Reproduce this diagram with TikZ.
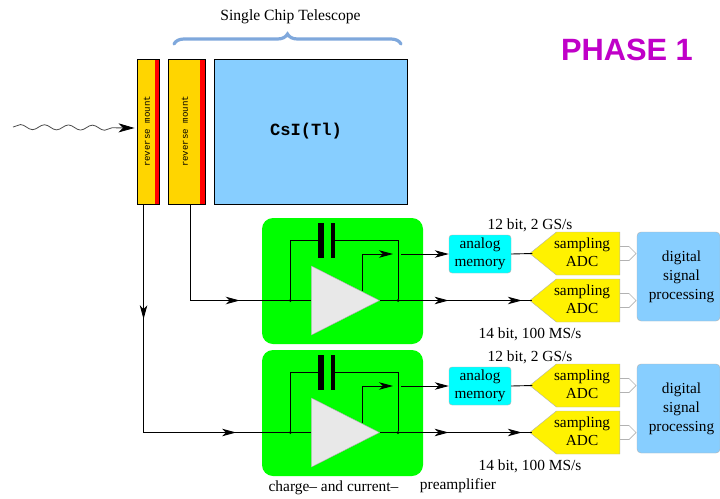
\documentclass[tikz,border=0pt]{standalone}
\usepackage{fontspec}
\setmainfont{Liberation Serif}
\newfontfamily\phasefont{Liberation Sans}
\newfontfamily\stripfont{Liberation Mono}
\usetikzlibrary{arrows.meta, positioning, calc}
\usetikzlibrary{decorations.markings, decorations.pathmorphing, decorations.pathreplacing}
\usetikzlibrary{shapes.geometric, shapes.symbols}
\definecolor{stripyellow}{HTML}{FFD500}
\definecolor{crystalblue}{HTML}{87CEFF}
\definecolor{bracecolor}{HTML}{7FA8DC}
\definecolor{phasecolor}{HTML}{C000C8}
\definecolor{memorycyan}{HTML}{00FFFF}
\newcommand{\adclabel}{\begin{tabular}{@{\hspace{-12pt}}c@{}}sampling\\ADC\end{tabular}}
\newcommand{\dsplabel}{\begin{tabular}{@{\hspace{6pt}}c@{}}digital\\signal\\processing\end{tabular}}
\begin{document}
\begin{tikzpicture}[x=1pt,y=1pt,node distance=132pt,on grid,
    >={Stealth[length=14pt,width=7.5pt,inset=4pt]}]
    \tikzstyle{stripbox}=[draw=black,line width=0.9pt,fill=stripyellow,minimum height=145pt,inner sep=0pt]
    \tikzstyle{redbar}=[fill=red,minimum height=144pt,inner sep=0pt]
    \tikzstyle{striptext}=[rotate=90,inner sep=0pt,font=\stripfont\fontsize{9.1}{9.1}\selectfont]
    \tikzstyle{crystal}=[draw=black,line width=0.9pt,fill=crystalblue,minimum width=193pt,minimum height=145pt,inner sep=0pt]
    \tikzstyle{greenbox}=[fill=green,rounded corners=11pt,minimum width=161pt,minimum height=126pt,inner sep=0pt]
    \tikzstyle{amp}=[isosceles triangle,isosceles triangle stretches,draw=gray!70,fill=gray!18,
        minimum height=68pt,minimum width=69pt,inner sep=0pt]
    \tikzstyle{plate}=[fill=black,minimum height=35pt,inner sep=0pt]
    \tikzstyle{dot}=[circle,fill=black,minimum size=3pt,inner sep=0pt]
    \tikzstyle{memory}=[draw=gray!60,fill=memorycyan,rounded corners=3pt,minimum width=62pt,minimum height=38pt,inner sep=0pt,
        align=center,font=\fontsize{15.3}{18}\selectfont]
    \tikzstyle{adc}=[signal,signal to=west,signal pointer angle=78,draw=gray!60,fill=yellow,minimum width=90pt,
        minimum height=43pt,inner sep=0pt,font=\fontsize{15.3}{18}\selectfont]
    \tikzstyle{dsp}=[draw=gray!60,fill=crystalblue,rounded corners=4pt,minimum width=83pt,minimum height=89pt,inner sep=0pt,
        font=\fontsize{15.3}{19}\selectfont]
    \tikzstyle{note}=[inner sep=0pt,font=\fontsize{15.4}{18}\selectfont]
    \tikzstyle{wire}=[draw,line width=0.9pt]
    \tikzstyle{hollow}=[draw=gray!60,line width=0.7pt]
    \tikzstyle{midtip}=[postaction={decorate,decoration={markings,mark=at position #1 with {\arrow{>}}}}]

    \useasboundingbox (0,0) rectangle (720,-498);

    \node[crystal] (csi) at (310.5,-131.5) {};
    \node[inner sep=0pt,font=\stripfont\bfseries\fontsize{17.1}{17.1}\selectfont] (csitext) at ([xshift=-4.5pt]csi.center) {CsI(Tl)};
    \node[stripbox, minimum width=37pt, left of=csi, node distance=124pt] (s2) {};
    \node[stripbox, minimum width=22pt, left of=s2, node distance=38.5pt] (s1) {};
    \node[redbar, minimum width=4pt, anchor=east] (r1) at (s1.east) {};
    \node[redbar, minimum width=5pt, anchor=east] (r2) at (s2.east) {};
    \node[striptext] (t1) at ([xshift=-1pt]s1.center) {reverse mount};
    \node[striptext] (t2) at ([xshift=-1.5pt]s2.center) {reverse mount};

    \node[note, font=\fontsize{15.6}{18}\selectfont] (title) at (290.5,-17) {Single Chip Telescope};
    \coordinate (bl) at (174,-44);
    \coordinate (br) at (401,-44);
    \draw[bracecolor,line width=3.2pt,line cap=round,decorate,decoration={brace,amplitude=10pt}] (bl) -- (br);
    \node[inner sep=0pt,text=phasecolor,font=\phasefont\bfseries\fontsize{30.8}{32}\selectfont] (phase) at (627,-50) {PHASE 1};

    \coordinate (ray) at (13,-127);
    \coordinate (hit) at ([yshift=3.5pt,xshift=-2pt]s1.west);
    \draw[gray!60!black,line width=0.8pt,-{Stealth[length=16pt,width=9pt,inset=4.5pt,black]},decorate,
        decoration={snake,amplitude=2.5pt,segment length=24pt,post length=16pt}] (ray) -- (hit);

    \node[greenbox] (g1) at (342.5,-281) {};
    \node[greenbox, below of=g1] (g2) {};
    \node[amp, anchor=apex] (amp1) at ([xshift=37.5pt,yshift=-19.5pt]g1.center) {};
    \node[amp, anchor=apex] (amp2) at ([xshift=37.5pt,yshift=-19.5pt]g2.center) {};

    \node[dot] (ja1) at ([xshift=-21pt]amp1.lower side) {};
    \node[dot] (jb1) at ([xshift=18pt]amp1.apex) {};
    \node[dot] (ja2) at ([xshift=-21pt]amp2.lower side) {};
    \node[dot] (jb2) at ([xshift=18pt]amp2.apex) {};

    \node[plate, minimum width=6pt] (pa1) at (321,-240.5) {};
    \node[plate, minimum width=4.5pt] (pb1) at (333,-240.5) {};
    \node[plate, minimum width=6pt, below of=pa1] (pa2) {};
    \node[plate, minimum width=4.5pt, below of=pb1] (pb2) {};

    \node[memory] (m1) at (480,-254) {analog\\memory};
    \node[memory, below of=m1] (m2) {analog\\memory};
    \node[adc, anchor=east] (a1) at (620,-253.5) {\adclabel};
    \node[adc, anchor=east] (b1) at (620,-300.5) {\adclabel};
    \node[adc, anchor=east] (a2) at (620,-385.5) {\adclabel};
    \node[adc, anchor=east] (b2) at (620,-432.5) {\adclabel};
    \node[dsp] (d1) at (678.5,-276.5) {\dsplabel};
    \node[dsp, below of=d1] (d2) {\dsplabel};

    \node[note] (u1) at (530,-225) {12 bit, 2 GS/s};
    \node[note] (l1) at (530,-334) {14 bit, 100 MS/s};
    \node[note] (u2) at (530,-357) {12 bit, 2 GS/s};
    \node[note] (l2) at (530,-466) {14 bit, 100 MS/s};
    \node[note] (cap) at (333.5,-488) {charge– and current–};
    \node[note] (pre) at (458,-486) {preamplifier};

    \coordinate (o1) at ([xshift=7pt]s1.south west);
    \coordinate (o2) at ([xshift=23pt]s2.south west);
    \coordinate (tap1) at ([xshift=-18pt,yshift=9.5pt]amp1.apex);
    \coordinate (tap2) at ([xshift=-18pt,yshift=9.5pt]amp2.apex);
    \coordinate (fo1) at (393,-254);
    \coordinate (ft1) at (401,-254);
    \coordinate (fo2) at (393,-386);
    \coordinate (ft2) at (401,-386);

    % input lines
    \path[wire,midtip=0.29,midtip=0.81] (o1) |- (amp2.lower side);
    \path[wire,midtip=0.67] (o2) |- (amp1.lower side);

    % feedback
    \path[wire] (ja1) |- (pa1);
    \path[wire] (pb1) -| (jb1);
    \path[wire] (ja2) |- (pa2);
    \path[wire] (pb2) -| (jb2);
    \path[wire,->] (tap1) |- (fo1);
    \path[wire,->] (tap2) |- (fo2);
    \path[wire,->] (ft1) -- (m1.west);
    \path[wire,->] (ft2) -- (m2.west);

    % outputs
    \path[wire,midtip=0.45,midtip=0.93] (amp1.apex) -- ([xshift=3pt]b1.west);
    \path[wire,midtip=0.45,midtip=0.93] (amp2.apex) -- ([xshift=3pt]b2.west);
    \path[wire] (m1.east) -- ([xshift=3pt]a1.west);
    \path[wire] (m2.east) -- ([xshift=3pt]a2.west);

    \path[hollow] ([yshift=7pt]a1.east) -- ++(9,0) -- ++(7,-7) -- ++(-7,-7) -- ++(-9,0);
    \path[hollow] ([yshift=7pt]b1.east) -- ++(9,0) -- ++(7,-7) -- ++(-7,-7) -- ++(-9,0);
    \path[hollow] ([yshift=7pt]a2.east) -- ++(9,0) -- ++(7,-7) -- ++(-7,-7) -- ++(-9,0);
    \path[hollow] ([yshift=7pt]b2.east) -- ++(9,0) -- ++(7,-7) -- ++(-7,-7) -- ++(-9,0);
\end{tikzpicture}
\end{document}
